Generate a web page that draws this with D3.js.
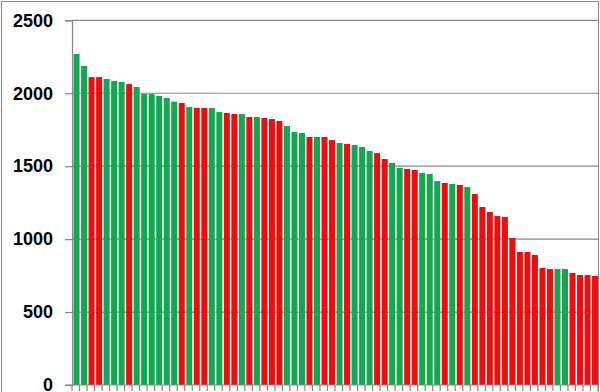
<!DOCTYPE html>
<html>
<head>
<meta charset="utf-8">
<script src="https://cdn.jsdelivr.net/npm/d3@7"></script>
<style>
  html, body { margin: 0; padding: 0; background: #fff; }
  svg { display: block; }
</style>
</head>
<body>
<svg id="chart" width="600" height="392"></svg>
<script>
// ---- data ----
const categories = d3.range(1, 71).map(String);
const values = [
  2269, 2187, 2111, 2111, 2098, 2084, 2077, 2063, 2043, 1995,
  1995, 1981, 1967, 1942, 1933, 1906, 1899, 1899, 1899, 1871,
  1865, 1858, 1858, 1837, 1837, 1830, 1823, 1810, 1775, 1734,
  1727, 1700, 1700, 1700, 1679, 1659, 1652, 1645, 1631, 1604,
  1590, 1549, 1522, 1488, 1481, 1474, 1453, 1446, 1398, 1385,
  1378, 1371, 1357, 1309, 1220, 1186, 1158, 1152, 1008, 912,
  912, 891, 802, 795, 795, 795, 768, 754, 754, 747
];
const groups = [
  "G","G","R","R","G","G","G","R","G","G",
  "G","G","G","G","R","G","R","R","G","G",
  "R","R","G","R","G","R","R","R","G","G",
  "G","R","G","R","R","G","R","G","G","G",
  "R","R","G","G","R","R","G","G","G","R",
  "G","R","G","R","R","R","R","R","R","R",
  "R","R","R","R","G","G","R","R","R","R"
];
const yTicks = [0, 500, 1000, 1500, 2000, 2500];
const colors = { G: "#13a752", R: "#ee0c0c" };

(function () {
  const svg = d3.select("#chart");
  const mLeft = 72, mRight = 598, mTop = 20.3, mBottom = 385;

  svg.append("rect").attr("x", 1.5).attr("y", 1.5).attr("width", 597).attr("height", 400)
    .attr("fill", "#fff").attr("stroke", "#8a8a8a").attr("stroke-width", 1);

  const x = d3.scaleBand().domain(categories).range([mLeft, mRight])
    .paddingInner(0.2).paddingOuter(0.1);
  const y = d3.scaleLinear().domain([0, 2500]).range([mBottom, mTop]);

  // gridlines
  svg.append("g").selectAll("line").data(yTicks.filter(d => d > 0)).join("line")
    .attr("x1", mLeft).attr("x2", mRight)
    .attr("y1", d => y(d)).attr("y2", d => y(d))
    .attr("stroke", "#878787").attr("stroke-width", 1.2);

  // bars
  const data = categories.map((c, i) => ({ c, v: values[i], g: groups[i] }));
  svg.append("g").selectAll("rect").data(data).join("rect")
    .attr("x", d => x(d.c) + 0.8)
    .attr("width", x.bandwidth())
    .attr("y", d => y(d.v))
    .attr("height", d => y(0) - y(d.v))
    .attr("fill", d => colors[d.g]);

  // y axis
  const yAxis = d3.axisLeft(y).tickValues(yTicks).tickSize(7).tickPadding(12)
    .tickFormat(d3.format("d"));
  const ya = svg.append("g").attr("transform", `translate(${mLeft},0)`).call(yAxis);
  ya.select(".domain").attr("stroke", "#878787").attr("stroke-width", 1.2);
  ya.selectAll(".tick line").attr("stroke", "#878787").attr("stroke-width", 1.2);
  ya.selectAll(".tick text")
    .attr("font-family", "'Liberation Sans', Arial, sans-serif")
    .attr("font-weight", "bold").attr("font-size", 18).attr("fill", "#000");

  // x axis baseline with category boundary ticks
  const half = (x.step() - x.bandwidth()) / 2;
  const bounds = categories.map(c => x(c) - half)
    .concat([x(categories[categories.length - 1]) + x.bandwidth() + half]);
  svg.append("line").attr("x1", mLeft - 7).attr("x2", mRight).attr("y1", mBottom).attr("y2", mBottom)
    .attr("stroke", "#878787").attr("stroke-width", 1.2);
  svg.append("g").selectAll("line").data(bounds).join("line")
    .attr("x1", d => d).attr("x2", d => d).attr("y1", mBottom).attr("y2", mBottom + 6)
    .attr("stroke", "#878787").attr("stroke-width", 1.2);
})();
</script>
</body>
</html>
